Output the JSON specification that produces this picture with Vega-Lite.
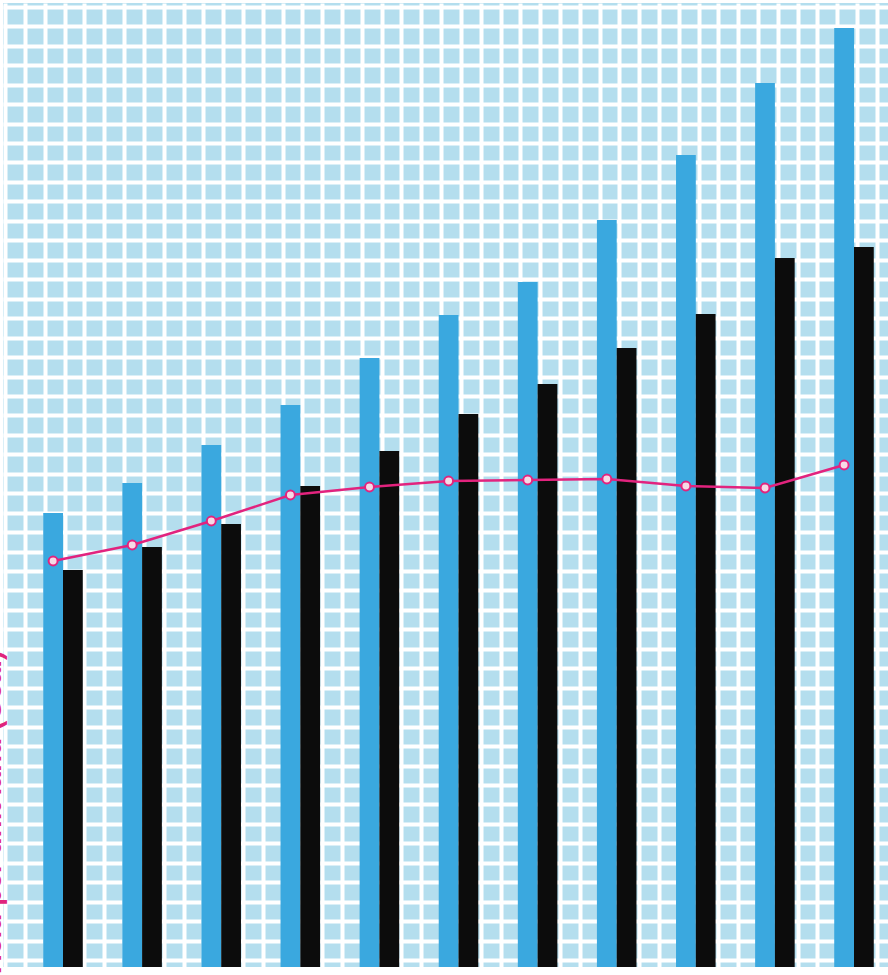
{
  "$schema": "https://vega.github.io/schema/vega-lite/v6.json",
  "width": 885,
  "height": 964,
  "autosize": {"type": "none"},
  "padding": {"left": 3, "top": 3, "right": 0, "bottom": 8},
  "background": "#ffffff",
  "config": {"view": {"stroke": null, "fill": "#b4deee"}},
  "datasets": {
    "bars": [
      {"group": "1", "series": "series 1", "value": 45.4},
      {"group": "1", "series": "series 2", "value": 39.7},
      {"group": "2", "series": "series 1", "value": 48.4},
      {"group": "2", "series": "series 2", "value": 42.0},
      {"group": "3", "series": "series 1", "value": 52.2},
      {"group": "3", "series": "series 2", "value": 44.3},
      {"group": "4", "series": "series 1", "value": 56.2},
      {"group": "4", "series": "series 2", "value": 48.1},
      {"group": "5", "series": "series 1", "value": 60.9},
      {"group": "5", "series": "series 2", "value": 51.6},
      {"group": "6", "series": "series 1", "value": 65.2},
      {"group": "6", "series": "series 2", "value": 55.3},
      {"group": "7", "series": "series 1", "value": 68.5},
      {"group": "7", "series": "series 2", "value": 58.3},
      {"group": "8", "series": "series 1", "value": 74.7},
      {"group": "8", "series": "series 2", "value": 61.9},
      {"group": "9", "series": "series 1", "value": 81.2},
      {"group": "9", "series": "series 2", "value": 65.3},
      {"group": "10", "series": "series 1", "value": 88.4},
      {"group": "10", "series": "series 2", "value": 70.9},
      {"group": "11", "series": "series 1", "value": 93.9},
      {"group": "11", "series": "series 2", "value": 72.0}
    ],
    "ratio": [
      {"group": "1", "value": 40.6},
      {"group": "2", "value": 42.2},
      {"group": "3", "value": 44.6},
      {"group": "4", "value": 47.2},
      {"group": "5", "value": 48.0},
      {"group": "6", "value": 48.6},
      {"group": "7", "value": 48.7},
      {"group": "8", "value": 48.8},
      {"group": "9", "value": 48.1},
      {"group": "10", "value": 47.9},
      {"group": "11", "value": 50.2}
    ]
  },
  "resolve": {"scale": {"x": "independent"}, "axis": {"y": "independent"}},
  "layer": [
    {
      "data": {"name": "bars"},
      "mark": {"type": "point", "opacity": 0},
      "encoding": {
        "x": {
          "field": "value", "type": "quantitative",
          "scale": {"domain": [0, 88.5], "nice": false, "zero": false},
          "axis": {
            "orient": "bottom", "grid": true, "gridColor": "#ffffff", "gridWidth": 4, "gridOpacity": 1,
            "labels": false, "ticks": false, "domain": false, "title": null,
            "values": [0.22, 2.20, 4.18, 6.16, 8.14, 10.13, 12.11, 14.09, 16.07, 18.05, 20.03, 22.01, 23.99, 25.97, 27.95, 29.94, 31.92, 33.90, 35.88, 37.86, 39.84, 41.82, 43.80, 45.78, 47.76, 49.75, 51.73, 53.71, 55.69, 57.67, 59.65, 61.63, 63.61, 65.59, 67.57, 69.56, 71.54, 73.52, 75.50, 77.48, 79.46, 81.44, 83.42, 85.40, 87.38]
          }
        },
        "y": {
          "field": "value", "type": "quantitative",
          "scale": {"domain": [0, 96.4], "nice": false, "zero": true},
          "axis": {
            "orient": "left",
            "grid": true, "gridColor": "#ffffff", "gridWidth": 4, "gridOpacity": 1,
            "labels": false, "ticks": false, "domain": false,
            "title": "Yield per unit land (Gcal)",
            "titleColor": "#e0247c", "titleFont": "Liberation Sans", "titleFontSize": 28, "titleFontWeight": "bold",
            "titleAngle": -90, "titleAlign": "left", "titleBaseline": "alphabetic",
            "titleX": -3, "titleY": 976,
            "values": [0.70, 2.65, 4.59, 6.54, 8.48, 10.43, 12.37, 14.32, 16.26, 18.21, 20.15, 22.10, 24.04, 25.99, 27.93, 29.88, 31.82, 33.77, 35.71, 37.66, 39.60, 41.55, 43.49, 45.44, 47.38, 49.33, 51.27, 53.22, 55.16, 57.11, 59.05, 61.00, 62.94, 64.89, 66.83, 68.78, 70.72, 72.67, 74.61, 76.56, 78.50, 80.45, 82.39, 84.34, 86.28, 88.23, 90.17, 92.12, 94.06, 96.01]
          }
        }
      }
    },
    {
      "data": {"name": "bars"},
      "mark": {"type": "bar"},
      "encoding": {
        "x": {"field": "group", "type": "nominal", "sort": null, "scale": {"domain": ["1","2","3","4","5","6","7","8","9","10","11"], "range": [20.45, 890.55], "paddingInner": 0, "paddingOuter": 0}, "axis": null},
        "xOffset": {"field": "series", "type": "nominal", "sort": ["series 1", "series 2"], "scale": {"domain": ["series 1", "series 2"], "paddingInner": 0, "paddingOuter": 1.0}},
        "y": {"field": "value", "type": "quantitative", "axis": null},
        "color": {"field": "series", "type": "nominal", "scale": {"domain": ["series 1", "series 2"], "range": ["#3aa8df", "#0c0c0c"]}, "legend": null}
      }
    },
    {
      "data": {"name": "ratio"},
      "mark": {"type": "line", "color": "#e2237e", "strokeWidth": 2.5},
      "encoding": {
        "x": {"field": "group", "type": "nominal", "sort": null, "scale": {"domain": ["1","2","3","4","5","6","7","8","9","10","11"], "range": [20.45, 890.55], "paddingInner": 0, "paddingOuter": 0}, "axis": null},
        "xOffset": {"datum": "series 1"},
        "y": {"field": "value", "type": "quantitative", "axis": null}
      }
    },
    {
      "data": {"name": "ratio"},
      "mark": {"type": "point", "shape": "circle", "size": 80, "filled": true, "fill": "#f6d9e6", "stroke": "#e2237e", "strokeWidth": 2, "opacity": 1},
      "encoding": {
        "x": {"field": "group", "type": "nominal", "sort": null, "scale": {"domain": ["1","2","3","4","5","6","7","8","9","10","11"], "range": [20.45, 890.55], "paddingInner": 0, "paddingOuter": 0}, "axis": null},
        "xOffset": {"datum": "series 1"},
        "y": {"field": "value", "type": "quantitative", "axis": null}
      }
    }
  ]
}
